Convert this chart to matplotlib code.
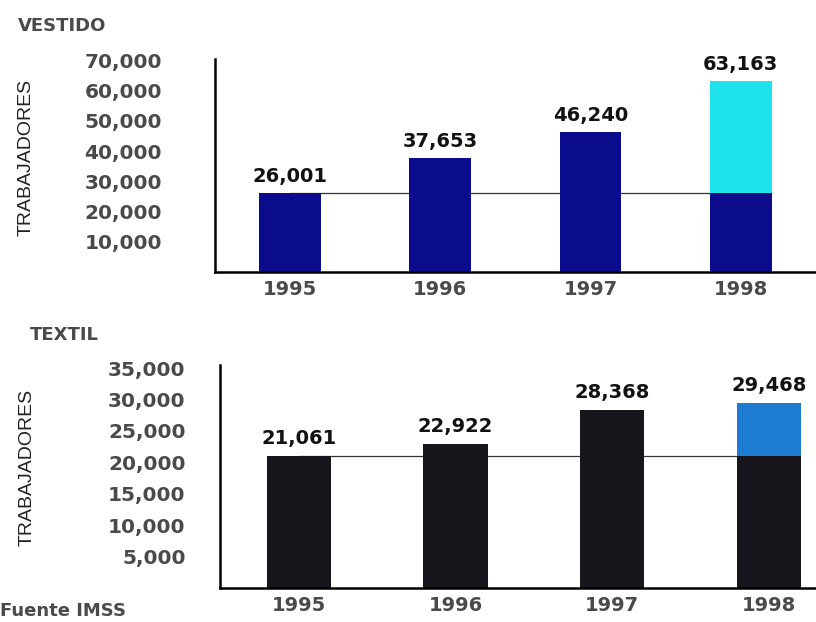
import matplotlib
matplotlib.use("Agg")
import matplotlib.pyplot as plt

# data
years = ['1995', '1996', '1997', '1998']
vestido = [26001, 37653, 46240, 63163]
textil = [21061, 22922, 28368, 29468]
vestido_ticks = [10000, 20000, 30000, 40000, 50000, 60000, 70000]
textil_ticks = [5000, 10000, 15000, 20000, 25000, 30000, 35000]

gray = '#4a4a4a'
narrow = ['Liberation Sans Narrow', 'Liberation Sans', 'DejaVu Sans']


def panel(ax, values, ticks, base_col, top_col, ymax, xmax, pad, labx):
    x = range(len(years))
    base = values[0]
    # bars, last one split at the 1995 level
    lower = [v if i < len(values) - 1 else base for i, v in enumerate(values)]
    upper = [0] * (len(values) - 1) + [values[-1] - base]
    ax.bar(x, lower, width=0.41, color=base_col, zorder=2)
    ax.bar(x, upper, bottom=lower, width=0.41, color=top_col, zorder=2)
    # reference line at the first year's level
    ax.plot([0, len(values) - 1], [base, base], color='#333333', lw=0.9, zorder=1)
    for i, v in enumerate(values):
        ax.text(i, v + ymax * 0.035, f'{v:,}', ha='center', va='bottom',
                fontsize=14, fontweight='bold', color='#111111')
    ax.set_xlim(-0.5, xmax)
    ax.set_ylim(0, ymax)
    ax.set_xticks(list(x))
    ax.set_xticklabels(years, fontsize=14, fontweight='bold', color=gray)
    ax.set_yticks(ticks)
    ax.set_yticklabels([f'{t:,}' for t in ticks], fontsize=14.5,
                       fontweight='bold', color=gray)
    ax.tick_params(axis='y', length=0, pad=pad)
    ax.tick_params(axis='x', length=0, pad=6)
    for s in ['top', 'right']:
        ax.spines[s].set_visible(False)
    ax.spines['left'].set_linewidth(1.8)
    ax.spines['bottom'].set_linewidth(1.8)
    ax.set_facecolor('none')
    ax.set_ylabel('TRABAJADORES', fontsize=14, family=narrow, color='#222222')
    ax.yaxis.set_label_coords(labx, 0.54)


fig = plt.figure(figsize=(8.16, 6.22), dpi=100)

ax1 = fig.add_axes([0.263, 0.563, 0.737, 0.342])
panel(ax1, vestido, vestido_ticks, '#0b0b8e', '#1fe3ea', 70500, 3.5, 38, -0.30)

ax2 = fig.add_axes([0.27, 0.055, 0.73, 0.358])
panel(ax2, textil, textil_ticks, '#15151b', '#1d7bd2', 35500, 3.3, 25, -0.31)

fig.text(0.022, 0.958, 'VESTIDO', fontsize=13, fontweight='bold', color=gray,
         va='center')
fig.text(0.036, 0.461, 'TEXTIL', fontsize=13, fontweight='bold', color=gray,
         va='center')
fig.text(0.0, 0.003, 'Fuente IMSS', fontsize=13, fontweight='bold', color=gray,
         va='bottom')

fig.savefig('out.png', dpi=100)
